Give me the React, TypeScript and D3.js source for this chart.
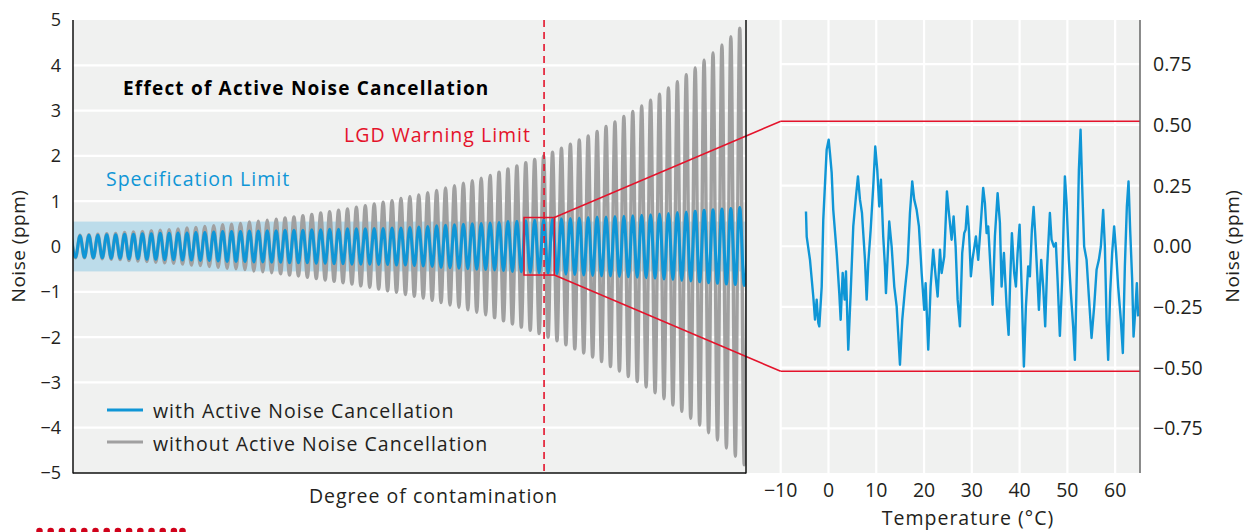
import React from "react";
import * as d3 from "d3";

const W = 1247;
const H = 532;

// ---------- data ----------
const leftTicks = [5, 4, 3, 2, 1, 0, -1, -2, -3, -4, -5];
const rightTicksY = [0.75, 0.5, 0.25, 0, -0.25, -0.5, -0.75];
const tempTicks = [-10, 0, 10, 20, 30, 40, 50, 60];

// peak amplitude per oscillation cycle (ppm)
const withoutAncPeaks = [
  0.25, 0.26, 0.27, 0.28, 0.29, 0.31, 0.32, 0.33, 0.35, 0.36,
  0.37, 0.39, 0.41, 0.42, 0.44, 0.46, 0.48, 0.49, 0.51, 0.54,
  0.56, 0.58, 0.6, 0.63, 0.65, 0.68, 0.71, 0.74, 0.77, 0.8,
  0.83, 0.87, 0.9, 0.94, 0.98, 1.01, 1.06, 1.1, 1.14, 1.19,
  1.24, 1.29, 1.34, 1.4, 1.45, 1.51, 1.57, 1.64, 1.71, 1.78,
  1.85, 1.92, 2.0, 2.08, 2.17, 2.26, 2.35, 2.44, 2.54, 2.65,
  2.75, 2.87, 2.98, 3.1, 3.23, 3.36, 3.5, 3.64, 3.79, 3.94,
  4.11, 4.27, 4.45, 4.63, 4.82,
];
const withAncPeaks = [
  0.24, 0.25, 0.25, 0.26, 0.26, 0.27, 0.27, 0.28, 0.28, 0.29,
  0.29, 0.3, 0.3, 0.31, 0.31, 0.32, 0.33, 0.33, 0.33, 0.34,
  0.34, 0.35, 0.35, 0.36, 0.36, 0.36, 0.37, 0.37, 0.38, 0.38,
  0.39, 0.39, 0.39, 0.4, 0.4, 0.41, 0.41, 0.42, 0.43, 0.44,
  0.46, 0.47, 0.48, 0.49, 0.5, 0.51, 0.52, 0.53, 0.55, 0.56,
  0.57, 0.58, 0.59, 0.6, 0.61, 0.62, 0.63, 0.64, 0.65, 0.65,
  0.66, 0.67, 0.68, 0.69, 0.7, 0.72, 0.73, 0.75, 0.76, 0.78,
  0.8, 0.81, 0.83, 0.84, 0.86,
];
const specLimit = 0.55;
const lgdLimit = 52.05; // contamination (cycle index)
const zoomBoxX = [49.8, 53.2];
const zoomBoxY = [-0.63, 0.64];
const zoomTargetY = [-0.515, 0.515];

const tempC = [
  -4.71, -4.56, -3.87, -3.18, -2.82, -2.47, -2.13, -1.92, -1.42, -1.09,
  -0.38, 0.04, 0.31, 0.67, 1.0, 1.72, 2.26, 2.55, 2.97, 3.39,
  3.66, 4.14, 4.64, 5.19, 5.75, 6.17, 6.59, 7.01, 7.64, 7.99,
  8.33, 8.83, 9.37, 9.79, 10.21, 10.63, 10.98, 11.46, 11.82, 12.03,
  12.72, 13.22, 13.77, 14.27, 14.96, 15.44, 16.0, 16.57, 17.05, 17.53,
  17.95, 18.45, 18.93, 19.5, 20.04, 20.33, 20.88, 21.38, 21.92, 22.43,
  22.85, 23.33, 23.68, 24.23, 24.79, 25.21, 25.77, 26.19, 26.61, 27.03,
  27.51, 27.99, 28.41, 28.7, 29.04, 29.39, 29.81, 30.13, 30.86, 31.34,
  31.84, 32.38, 32.74, 33.1, 33.43, 33.93, 34.35, 34.83, 35.4, 35.88,
  36.23, 36.72, 37.28, 37.7, 38.03, 38.39, 38.87, 39.23, 39.58, 40.0,
  40.42, 40.9, 41.32, 41.8, 42.15, 42.57, 42.93, 43.26, 43.68, 44.04,
  44.52, 44.94, 45.36, 45.77, 46.34, 46.69, 47.18, 47.59, 47.95, 48.43,
  48.91, 49.48, 49.83, 50.31, 50.73, 51.21, 51.57, 51.99, 52.41, 52.76,
  53.1, 53.51, 54.02, 54.5, 55.06, 55.61, 56.11, 56.59, 57.01, 57.49,
  57.85, 58.2, 58.54, 58.95, 59.37, 59.79, 60.21, 60.63, 61.19, 61.61,
  62.03, 62.45, 62.8, 63.14, 63.56, 63.85, 64.27, 64.54, 64.81,
];
const tempNoise = [
  0.143, 0.04, -0.056, -0.207, -0.302, -0.22, -0.316, -0.33, -0.166, 0.109,
  0.398, 0.439, 0.384, 0.302, 0.15, -0.028, -0.193, -0.303, -0.11, -0.22,
  -0.104, -0.426, -0.193, 0.082, 0.205, 0.288, 0.192, 0.137, -0.056, -0.22,
  -0.069, 0.068, 0.246, 0.411, 0.315, 0.164, 0.274, 0.04, -0.083, -0.193,
  0.102, -0.001, -0.166, -0.248, -0.488, -0.303, -0.179, -0.069, 0.137, 0.267,
  0.192, 0.15, 0.082, -0.11, -0.262, -0.152, -0.426, -0.166, -0.014, -0.124,
  -0.207, -0.014, -0.11, -0.042, 0.226, 0.137, 0.027, 0.123, -0.001, -0.22,
  -0.33, -0.028, 0.054, 0.068, 0.164, 0.068, -0.124, -0.056, 0.04, -0.056,
  0.082, 0.24, 0.178, 0.054, 0.082, -0.097, -0.241, 0.04, 0.219, 0.096,
  -0.166, -0.028, -0.248, -0.365, -0.138, 0.054, -0.11, -0.166, -0.028, 0.089,
  -0.166, -0.495, -0.248, -0.083, -0.124, 0.068, 0.162, 0.054, -0.11, -0.262,
  -0.056, -0.166, -0.33, -0.083, 0.137, 0.027, -0.001, 0.013, -0.138, -0.369,
  -0.138, 0.288, 0.178, -0.056, -0.193, -0.33, -0.468, -0.097, 0.315, 0.48,
  0.246, -0.001, -0.056, -0.207, -0.378, -0.248, -0.097, -0.056, -0.001, 0.15,
  -0.001, -0.303, -0.468, -0.193, -0.028, 0.082, -0.028, -0.166, -0.303, -0.44,
  -0.083, 0.164, 0.267, 0.068, -0.138, -0.372, -0.248, -0.152, -0.289,
];

// ---------- style ----------
const FONT = "'Open Sans', Lato, sans-serif";
const BG = "#f0f1f0";
const BLUE = "#0f96d6";
const GRAY = "#a0a0a0";
const RED = "#e4132b";
const TXT = "#231f20";
const BAND = "#bcdcea";
const LS = 1; // letter spacing for labels

const L = { x0: 73, x1: 746, y0: 20, y1: 473 };
const R = { x0: 780.7, x1: 1140, bg0: 746 };

const fmtMinus = (s: string) => s.replace("-", "\u2212");

function wavePoints(peaks: number[]): [number, number][] {
  const pts: [number, number][] = [[-1, peaks[0]], [-0.5, -peaks[0]]];
  peaks.forEach((p, i) => {
    pts.push([i, p]);
    pts.push([i + 0.5, -p]);
  });
  pts.push([peaks.length, peaks[peaks.length - 1]]);
  return pts;
}

export default function App() {
  const xL = d3.scaleLinear().domain([-0.785, 74.7]).range([L.x0, L.x1]);
  const yL = d3.scaleLinear().domain([-5, 5]).range([L.y1, L.y0]);
  const xR = d3.scaleLinear().domain([-10, 65.2]).range([R.x0, R.x1]);
  const yR = d3.scaleLinear().domain([-0.934, 0.932]).range([L.y1, L.y0]);

  const waveLine = d3
    .line<[number, number]>()
    .x((d) => xL(d[0]))
    .y((d) => yL(d[1]))
    .curve(d3.curveMonotoneX);

  const tempLine = d3
    .line<number>()
    .x((_, i) => xR(tempC[i]))
    .y((d) => yR(d))
    .curve(d3.curveLinear);

  const bx0 = xL(zoomBoxX[0]);
  const bx1 = xL(zoomBoxX[1]);
  const by0 = yL(zoomBoxY[1]);
  const by1 = yL(zoomBoxY[0]);

  return (
    <svg width={W} height={H} style={{ display: "block", position: "absolute", left: 0, top: 0 }} fontFamily={FONT}>
      <defs>
        <clipPath id="clipL">
          <rect x={L.x0} y={L.y0} width={L.x1 - L.x0} height={L.y1 - L.y0} />
        </clipPath>
      </defs>
      <rect x={0} y={0} width={W} height={H} fill="#ffffff" />
      {/* backgrounds */}
      <rect x={L.x0} y={L.y0} width={L.x1 - L.x0} height={L.y1 - L.y0} fill={BG} />
      <rect x={R.bg0} y={L.y0} width={R.x1 - R.bg0} height={L.y1 - L.y0} fill={BG} />

      {/* left gridlines */}
      {leftTicks
        .filter((t) => t !== 5 && t !== -5)
        .map((t) => (
          <line key={"gl" + t} x1={L.x0} x2={L.x1} y1={yL(t)} y2={yL(t)} stroke="#ffffff" strokeWidth={2.2} />
        ))}
      {/* right gridlines */}
      {tempTicks.map((t) => (
        <line key={"gx" + t} x1={xR(t)} x2={xR(t)} y1={L.y0} y2={L.y1} stroke="#ffffff" strokeWidth={2.2} />
      ))}
      {rightTicksY.map((t) => (
        <line key={"gy" + t} x1={R.x0} x2={R.x1} y1={yR(t)} y2={yR(t)} stroke="#ffffff" strokeWidth={2.2} />
      ))}

      {/* spec band */}
      <rect
        x={L.x0}
        y={yL(specLimit)}
        width={L.x1 - L.x0}
        height={yL(-specLimit) - yL(specLimit)}
        fill={BAND}
      />

      <g clipPath="url(#clipL)">
        <path d={waveLine(wavePoints(withoutAncPeaks)) || ""} fill="none" stroke={GRAY} strokeWidth={3.4} />
        <path d={waveLine(wavePoints(withAncPeaks)) || ""} fill="none" stroke={BLUE} strokeWidth={3} />
      </g>

      {/* right series */}
      <path d={tempLine(tempNoise) || ""} fill="none" stroke={BLUE} strokeWidth={2.4} strokeLinejoin="round" />

      {/* LGD limit */}
      <line x1={xL(lgdLimit)} x2={xL(lgdLimit)} y1={L.y0} y2={L.y1} stroke={RED} strokeWidth={1.6} strokeDasharray="7,5" />

      {/* zoom box and connectors */}
      <rect x={bx0} y={by0} width={bx1 - bx0} height={by1 - by0} fill="none" stroke={RED} strokeWidth={1.5} />
      <line x1={bx1} y1={by0} x2={R.x0} y2={yR(zoomTargetY[1])} stroke={RED} strokeWidth={1.5} />
      <line x1={bx1} y1={by1} x2={R.x0} y2={yR(zoomTargetY[0])} stroke={RED} strokeWidth={1.5} />
      <line x1={R.x0} y1={yR(zoomTargetY[1])} x2={R.x1} y2={yR(zoomTargetY[1])} stroke={RED} strokeWidth={1.5} />
      <line x1={R.x0} y1={yR(zoomTargetY[0])} x2={R.x1} y2={yR(zoomTargetY[0])} stroke={RED} strokeWidth={1.5} />

      {/* frames */}
      <line x1={L.x0} x2={L.x0} y1={L.y0} y2={L.y1 + 0.5} stroke="#111" strokeWidth={1.5} />
      <line x1={L.x0} x2={L.x1} y1={L.y1} y2={L.y1} stroke="#111" strokeWidth={1.5} />
      <line x1={L.x1} x2={L.x1} y1={L.y0} y2={L.y1 + 0.5} stroke="#111" strokeWidth={1.5} />
      <line x1={R.x1} x2={R.x1} y1={L.y0} y2={L.y1} stroke="#666" strokeWidth={1.5} />

      {/* left ticks */}
      {leftTicks.map((t) => (
        <text key={"lt" + t} x={61} y={yL(t)} dy="0.36em" textAnchor="end" fontSize={18} fill={TXT}>
          {fmtMinus(String(t))}
        </text>
      ))}
      {/* right ticks */}
      {rightTicksY.map((t) => (
        <text key={"rt" + t} x={1153} y={yR(t)} dy="0.36em" textAnchor="start" fontSize={19.5} fill={TXT}>
          {fmtMinus(d3.format(".2f")(t))}
        </text>
      ))}
      {tempTicks.map((t) => (
        <text key={"tt" + t} x={xR(t)} y={497} textAnchor="middle" fontSize={19.5} fill={TXT}>
          {fmtMinus(String(t))}
        </text>
      ))}

      {/* axis titles */}
      <text transform="translate(25,246) rotate(-90)" textAnchor="middle" fontSize={19} letterSpacing={0.5} fill={TXT}>
        Noise (ppm)
      </text>
      <text transform="translate(1239,246) rotate(-90)" textAnchor="middle" fontSize={19} letterSpacing={0.5} fill={TXT}>
        Noise (ppm)
      </text>
      <text x={433.5} y={503} textAnchor="middle" fontSize={19.5} letterSpacing={LS} fill={TXT}>
        Degree of contamination
      </text>
      <text x={968} y={525} textAnchor="middle" fontSize={19.5} letterSpacing={LS} fill={TXT}>
        Temperature (°C)
      </text>

      {/* annotations */}
      <text x={123} y={95} fontSize={19} fontWeight={700} letterSpacing={1.2} fill="#000">
        Effect of Active Noise Cancellation
      </text>
      <text x={531} y={141.5} textAnchor="end" fontSize={19.5} letterSpacing={LS} fill={RED}>
        LGD Warning Limit
      </text>
      <text x={106} y={186} fontSize={19.5} letterSpacing={LS} fill={BLUE}>
        Specification Limit
      </text>

      {/* legend */}
      <line x1={107} x2={143} y1={410} y2={410} stroke={BLUE} strokeWidth={3} />
      <text x={153} y={418} fontSize={19.5} letterSpacing={LS} fill={TXT}>
        with Active Noise Cancellation
      </text>
      <line x1={107} x2={143} y1={442} y2={442} stroke={GRAY} strokeWidth={3} />
      <text x={153} y={450.5} fontSize={19.5} letterSpacing={LS} fill={TXT}>
        without Active Noise Cancellation
      </text>

      {/* decorative dotted rule */}
      <line x1={39.5} x2={175} y1={531} y2={531} stroke="#d0021b" strokeWidth={6.5} strokeLinecap="round" strokeDasharray="0,11.2" />
      <circle cx={182.5} cy={531} r={3.3} fill="#d0021b" />
    </svg>
  );
}
